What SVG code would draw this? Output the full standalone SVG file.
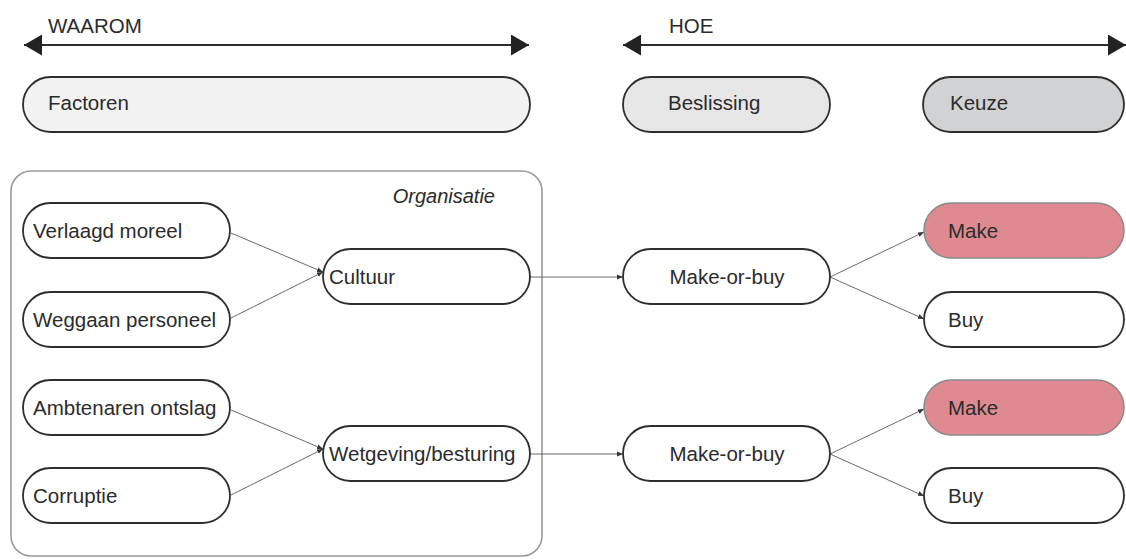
<svg xmlns="http://www.w3.org/2000/svg" width="1126" height="559" viewBox="0 0 1126 559">
  <style>
    text { font-family: "Liberation Sans", Arial, sans-serif; font-size: 20.5px; fill: #2b2b2b; }
    .pill { stroke: #2e2e2e; stroke-width: 1.8; fill: #ffffff; }
    .make { fill: #de8a90; stroke: #8a8a8a; stroke-width: 1.5; }
    .axis { stroke: #2e2e2e; stroke-width: 2; fill: none; }
    .link { stroke: #5a5a5a; stroke-width: 0.9; fill: none; marker-end: url(#tip); }
    .frame { fill: none; stroke: #9a9a9a; stroke-width: 1.6; }
  </style>
  <defs>
    <marker id="tip" viewBox="0 0 6 6" refX="6" refY="3" markerWidth="6" markerHeight="6" markerUnits="userSpaceOnUse" orient="auto">
      <path d="M0,0.6 L6,3 L0,5.4 Z" fill="#333"/>
    </marker>
    <marker id="head" viewBox="0 0 18 21" refX="18" refY="10.5" markerWidth="18" markerHeight="21" markerUnits="userSpaceOnUse" orient="auto-start-reverse">
      <path d="M0,0 L18,10.5 L0,21 Z" fill="#222"/>
    </marker>
  </defs>

  <!-- Timeline axes -->
  <g id="axis-waarom">
    <line class="axis" x1="24" y1="45" x2="529" y2="45" marker-start="url(#head)" marker-end="url(#head)"/>
    <text x="48" y="33">WAAROM</text>
  </g>
  <g id="axis-hoe">
    <line class="axis" x1="623" y1="45" x2="1126" y2="45" marker-start="url(#head)" marker-end="url(#head)"/>
    <text x="669" y="33">HOE</text>
  </g>

  <!-- Column headers -->
  <g id="hdr-factoren">
    <rect class="pill" x="23" y="77" width="507" height="55" rx="27.5" fill="#f2f2f2" style="fill:#f2f2f2"/>
    <text x="48" y="110">Factoren</text>
  </g>
  <g id="hdr-beslissing">
    <rect class="pill" x="623" y="77" width="207" height="55" rx="27.5" style="fill:#e6e6e7"/>
    <text x="668" y="110">Beslissing</text>
  </g>
  <g id="hdr-keuze">
    <rect class="pill" x="923" y="77" width="201" height="55" rx="27.5" style="fill:#d1d2d4"/>
    <text x="950" y="110">Keuze</text>
  </g>

  <!-- Organisation frame -->
  <g id="organisatie">
    <rect class="frame" x="11" y="171" width="531" height="385" rx="20"/>
    <text x="495" y="203" text-anchor="end" font-style="italic" style="font-size:20px">Organisatie</text>
  </g>

  <!-- Connectors -->
  <g id="connectors">
    <line class="link" x1="231" y1="233" x2="323" y2="272"/>
    <line class="link" x1="231" y1="318" x2="323" y2="272"/>
    <line class="link" x1="530" y1="277" x2="623" y2="277"/>
    <line class="link" x1="830" y1="277" x2="924" y2="232"/>
    <line class="link" x1="830" y1="277" x2="924" y2="319"/>

    <line class="link" x1="231" y1="410" x2="323" y2="449"/>
    <line class="link" x1="231" y1="495" x2="323" y2="449"/>
    <line class="link" x1="530" y1="454" x2="623" y2="454"/>
    <line class="link" x1="830" y1="454" x2="924" y2="409"/>
    <line class="link" x1="830" y1="454" x2="924" y2="496"/>
  </g>

  <!-- Factor nodes -->
  <g id="verlaagd-moreel">
    <rect class="pill" x="23" y="203" width="207" height="55" rx="27.5"/>
    <text x="33" y="238">Verlaagd moreel</text>
  </g>
  <g id="weggaan-personeel">
    <rect class="pill" x="23" y="292" width="207" height="55" rx="27.5"/>
    <text x="33" y="327">Weggaan personeel</text>
  </g>
  <g id="cultuur">
    <rect class="pill" x="323" y="249" width="207" height="55" rx="27.5"/>
    <text x="329" y="284">Cultuur</text>
  </g>
  <g id="ambtenaren-ontslag">
    <rect class="pill" x="23" y="380" width="207" height="55" rx="27.5"/>
    <text x="33" y="415">Ambtenaren ontslag</text>
  </g>
  <g id="corruptie">
    <rect class="pill" x="23" y="468" width="207" height="55" rx="27.5"/>
    <text x="33" y="503">Corruptie</text>
  </g>
  <g id="wetgeving-besturing">
    <rect class="pill" x="323" y="426" width="207" height="55" rx="27.5"/>
    <text x="329" y="461">Wetgeving/besturing</text>
  </g>

  <!-- Decision nodes -->
  <g id="make-or-buy-1">
    <rect class="pill" x="623" y="249" width="207" height="55" rx="27.5"/>
    <text x="727" y="284" text-anchor="middle">Make-or-buy</text>
  </g>
  <g id="make-or-buy-2">
    <rect class="pill" x="623" y="426" width="207" height="55" rx="27.5"/>
    <text x="727" y="461" text-anchor="middle">Make-or-buy</text>
  </g>

  <!-- Choice nodes -->
  <g id="make-1">
    <rect class="make" x="924" y="203" width="200" height="55" rx="27.5"/>
    <text x="948" y="238">Make</text>
  </g>
  <g id="buy-1">
    <rect class="pill" x="924" y="292" width="200" height="55" rx="27.5"/>
    <text x="948" y="327">Buy</text>
  </g>
  <g id="make-2">
    <rect class="make" x="924" y="380" width="200" height="55" rx="27.5"/>
    <text x="948" y="415">Make</text>
  </g>
  <g id="buy-2">
    <rect class="pill" x="924" y="468" width="200" height="55" rx="27.5"/>
    <text x="948" y="503">Buy</text>
  </g>
</svg>
